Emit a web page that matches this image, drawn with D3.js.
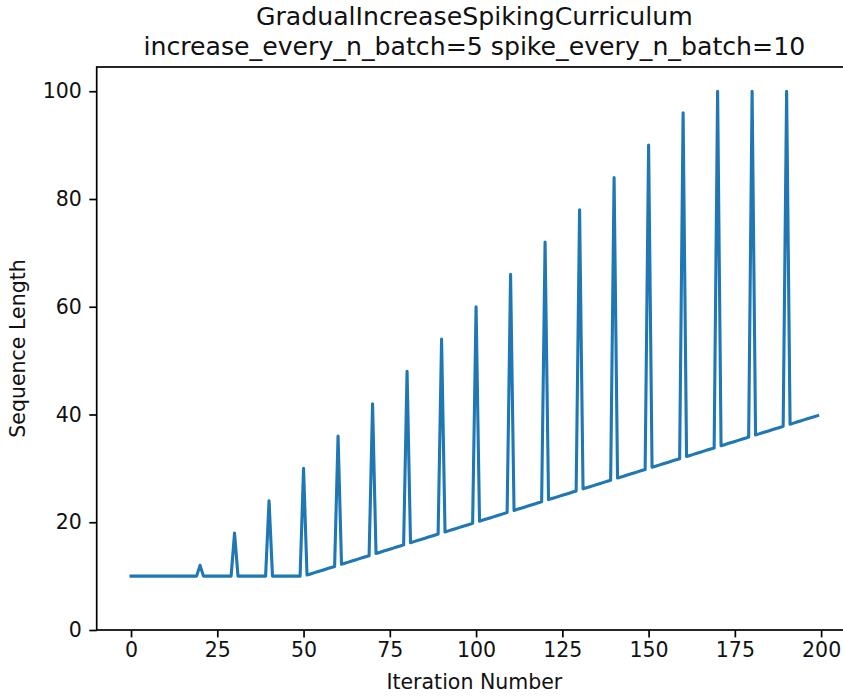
<!DOCTYPE html>
<html>
<head>
<meta charset="utf-8">
<script src="https://cdn.jsdelivr.net/npm/d3@7"></script>
<style>
  body { margin: 0; background: #fff; }
  svg { display: block; font-family: "DejaVu Sans", sans-serif; }
</style>
</head>
<body>
<svg id="chart" width="843" height="696"></svg>
<script>
// sequence length per iteration (rows of 10)
const seqLength = [
  10, 10, 10, 10, 10, 10, 10, 10, 10, 10,
  10, 10, 10, 10, 10, 10, 10, 10, 10, 10,
  12, 10, 10, 10, 10, 10, 10, 10, 10, 10,
  18, 10, 10, 10, 10, 10, 10, 10, 10, 10,
  24, 10, 10, 10, 10, 10, 10, 10, 10, 10,
  30, 10.2, 10.4, 10.6, 10.8, 11, 11.2, 11.4, 11.6, 11.8,
  36, 12.2, 12.4, 12.6, 12.8, 13, 13.2, 13.4, 13.6, 13.8,
  42, 14.2, 14.4, 14.6, 14.8, 15, 15.2, 15.4, 15.6, 15.8,
  48, 16.2, 16.4, 16.6, 16.8, 17, 17.2, 17.4, 17.6, 17.8,
  54, 18.2, 18.4, 18.6, 18.8, 19, 19.2, 19.4, 19.6, 19.8,
  60, 20.2, 20.4, 20.6, 20.8, 21, 21.2, 21.4, 21.6, 21.8,
  66, 22.2, 22.4, 22.6, 22.8, 23, 23.2, 23.4, 23.6, 23.8,
  72, 24.2, 24.4, 24.6, 24.8, 25, 25.2, 25.4, 25.6, 25.8,
  78, 26.2, 26.4, 26.6, 26.8, 27, 27.2, 27.4, 27.6, 27.8,
  84, 28.2, 28.4, 28.6, 28.8, 29, 29.2, 29.4, 29.6, 29.8,
  90, 30.2, 30.4, 30.6, 30.8, 31, 31.2, 31.4, 31.6, 31.8,
  96, 32.2, 32.4, 32.6, 32.8, 33, 33.2, 33.4, 33.6, 33.8,
  100, 34.2, 34.4, 34.6, 34.8, 35, 35.2, 35.4, 35.6, 35.8,
  100, 36.2, 36.4, 36.6, 36.8, 37, 37.2, 37.4, 37.6, 37.8,
  100, 38.2, 38.4, 38.6, 38.8, 39, 39.2, 39.4, 39.6, 39.8
];
const iterations = seqLength.map((d, i) => i);
const xTicks = [0, 25, 50, 75, 100, 125, 150, 175, 200];
const yTicks = [0, 20, 40, 60, 80, 100];
const titleLines = ['GradualIncreaseSpikingCurriculum', 'increase_every_n_batch=5 spike_every_n_batch=10'];

const svg = d3.select('#chart');
const plotLeft = 96.7, plotRight = 852, plotTop = 67, plotBottom = 630;

const x = d3.scaleLinear().domain([-9.95, 208.95]).range([plotLeft, plotRight]);
const y = d3.scaleLinear().domain([0, 104.5]).range([plotBottom, plotTop]);

const tickFont = 20.5;
const textColor = '#111';

// x axis
const xAxis = svg.append('g')
  .attr('transform', 'translate(0,' + plotBottom + ')')
  .call(d3.axisBottom(x).tickValues(xTicks).tickSize(7.4).tickPadding(5).tickSizeOuter(0));
xAxis.select('.domain').remove();
xAxis.selectAll('line').attr('stroke', '#000').attr('stroke-width', 1.7);
xAxis.selectAll('text').attr('font-size', tickFont).attr('fill', textColor)
  .attr('font-family', '"DejaVu Sans", sans-serif');

// y axis
const yAxis = svg.append('g')
  .attr('transform', 'translate(' + plotLeft + ',0)')
  .call(d3.axisLeft(y).tickValues(yTicks).tickSize(7.4).tickPadding(7.4).tickSizeOuter(0));
yAxis.select('.domain').remove();
yAxis.selectAll('line').attr('stroke', '#000').attr('stroke-width', 1.7);
yAxis.selectAll('text').attr('font-size', tickFont).attr('fill', textColor)
  .attr('font-family', '"DejaVu Sans", sans-serif');

// line
const line = d3.line()
  .x((d, i) => x(iterations[i]))
  .y(d => y(d));

svg.append('path')
  .datum(seqLength)
  .attr('fill', 'none')
  .attr('stroke', '#1f77b4')
  .attr('stroke-width', 3.1)
  .attr('stroke-linejoin', 'round')
  .attr('stroke-linecap', 'square')
  .attr('d', line);

// spines
svg.append('rect')
  .attr('x', plotLeft).attr('y', plotTop)
  .attr('width', plotRight - plotLeft).attr('height', plotBottom - plotTop)
  .attr('fill', 'none').attr('stroke', '#000').attr('stroke-width', 1.7);

// title, two lines
const title = svg.append('g')
  .attr('text-anchor', 'middle').attr('font-size', 25.2).attr('fill', textColor);
title.selectAll('text')
  .data(titleLines)
  .join('text')
  .attr('x', (plotLeft + plotRight) / 2)
  .attr('y', (d, i) => 25 + i * 29.6)
  .text(d => d);

// axis labels
svg.append('text')
  .attr('x', (plotLeft + plotRight) / 2).attr('y', 689)
  .attr('text-anchor', 'middle').attr('font-size', tickFont).attr('fill', textColor)
  .text('Iteration Number');
svg.append('text')
  .attr('transform', 'translate(25,' + (plotTop + plotBottom) / 2 + ') rotate(-90)')
  .attr('text-anchor', 'middle').attr('font-size', tickFont).attr('fill', textColor)
  .text('Sequence Length');
</script>
</body>
</html>
